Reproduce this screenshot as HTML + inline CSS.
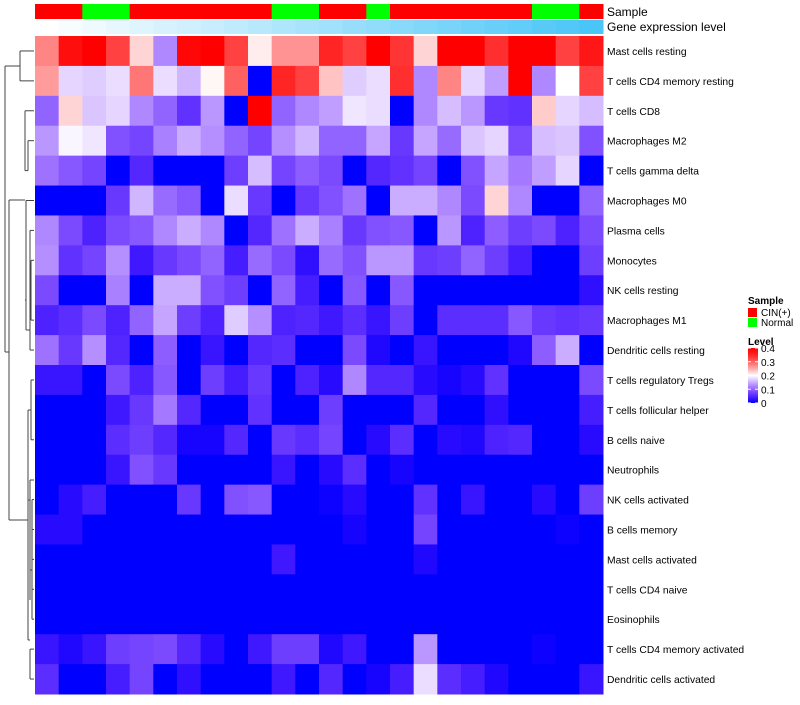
<!DOCTYPE html>
<html><head><meta charset="utf-8"><style>
body{margin:0;background:#fff;font-family:"Liberation Sans",sans-serif;}
svg text{font-family:"Liberation Sans",sans-serif;}
</style></head><body>
<svg id="chart" width="800" height="700" xmlns="http://www.w3.org/2000/svg"></svg>
<script>
const cellTypes=["Mast cells resting","T cells CD4 memory resting","T cells CD8","Macrophages M2","T cells gamma delta","Macrophages M0","Plasma cells","Monocytes","NK cells resting","Macrophages M1","Dendritic cells resting","T cells regulatory  Tregs","T cells follicular helper","B cells naive","Neutrophils","NK cells activated","B cells memory","Mast cells activated","T cells CD4 naive","Eosinophils","T cells CD4 memory activated","Dendritic cells activated"];
const sampleGroups=["CIN(+)","CIN(+)","Normal","Normal","CIN(+)","CIN(+)","CIN(+)","CIN(+)","CIN(+)","CIN(+)","Normal","Normal","CIN(+)","CIN(+)","Normal","CIN(+)","CIN(+)","CIN(+)","CIN(+)","CIN(+)","CIN(+)","Normal","Normal","CIN(+)"];
const legendTicks=[0,0.1,0.2,0.3,0.4];
const levels=[
[.275,.375,.4,.325,.225,.125,.385,.4,.325,.21,.265,.265,.35,.325,.4,.335,.225,.4,.4,.34,.4,.4,.325,.365],
[.26,.175,.17,.18,.285,.18,.155,.205,.3,0,.35,.325,.235,.17,.18,.34,.125,.275,.175,.14,.4,.125,.2,.325],
[.1,.225,.165,.175,.125,.1,.06,.135,0,.4,.1,.125,.14,.185,.18,0,.125,.16,.135,.065,.06,.23,.175,.16],
[.135,.195,.185,.085,.075,.12,.15,.13,.1,.075,.13,.155,.1,.1,.145,.065,.145,.105,.165,.175,.08,.16,.165,.085],
[.11,.09,.075,0,.05,0,0,0,.07,.16,.075,.095,.08,0,.05,.06,.075,0,.085,.145,.115,.14,.175,0],
[0,0,0,.065,.155,.105,.09,0,.18,.065,0,.065,.085,.11,0,.15,.15,.125,.08,.225,.125,0,0,.1],
[.125,.08,.045,.08,.09,.125,.15,.125,0,.05,.11,.15,.12,.065,.085,.09,0,.135,.045,.095,.07,.08,.045,.08],
[.13,.06,.075,.13,.035,.065,.08,.1,.04,.105,.08,.025,.105,.085,.135,.135,.065,.07,.1,.07,.04,0,0,.07],
[.08,0,0,.12,0,.15,.15,.085,.07,0,.1,.04,0,.09,0,.09,0,0,0,0,0,0,0,.025],
[.045,.055,.08,.045,.1,.145,.07,.045,.17,.13,.045,.05,.035,.055,.03,.07,0,.055,.055,.055,.09,.065,.06,.065],
[.11,.065,.13,.05,0,.095,0,.03,0,.05,.055,0,0,.08,.015,0,.03,0,0,0,.015,.095,.15,0],
[.03,.03,0,.08,.045,.09,0,.07,.04,.065,0,.045,.02,.125,.05,.05,.02,.01,.02,.06,0,0,0,.08],
[0,0,0,.035,.065,.115,.05,0,0,.06,0,0,.07,0,0,0,.05,0,0,.025,0,0,0,.04],
[0,0,0,.055,.07,.05,.01,.01,.05,0,.065,.055,.075,0,.02,.055,0,.02,.015,.045,.05,0,0,.02],
[0,0,0,.03,.085,.065,0,0,0,0,.03,0,.02,.055,0,.01,0,0,0,0,0,0,0,0],
[0,.02,.04,0,0,0,.065,0,.085,.09,0,0,.005,.02,0,0,.06,0,.03,0,0,.02,0,.07],
[.02,.02,0,0,0,0,0,0,0,0,0,0,0,.01,0,0,.075,0,0,0,0,0,.005,0],
[0,0,0,0,0,0,0,0,0,0,.035,0,0,0,0,0,.015,0,0,0,0,0,0,0],
[0,0,0,0,0,0,0,0,0,0,0,0,0,0,0,0,0,0,0,0,0,0,0,0],
[0,0,0,0,0,0,0,0,0,0,0,0,0,0,0,0,0,0,0,0,0,0,0,0],
[.03,.015,.03,.07,.075,.08,.05,.02,0,.035,.07,.07,.015,.035,0,0,.135,0,0,0,0,.005,0,0],
[.055,0,0,.04,.075,0,.025,0,0,0,.035,0,.05,0,.01,.04,.18,.055,.04,.015,0,0,0,.03]
];
const NS="http://www.w3.org/2000/svg";
const svg=document.getElementById('chart');
function mk(tag,attrs,parent){const e=document.createElementNS(NS,tag);for(const k in attrs)e.setAttribute(k,attrs[k]);(parent||svg).appendChild(e);return e;}
const X0=35,X1=603,Y0=36,Y1=694;
const nC=sampleGroups.length,nR=cellTypes.length;
const cw=(X1-X0)/nC,rh=(Y1-Y0)/nR;
const xPos=i=>X0+i*cw, yPos=j=>Y0+j*rh;
function color(v){
  v=Math.max(0,Math.min(0.4,v));
  let r,g,b;
  if(v<=0.2){const t=v/0.2;r=255*Math.pow(t,0.8);g=255*Math.pow(t,1.35);b=255;}
  else{const s=(v-0.2)/0.2;r=255;g=b=255*Math.pow(1-s,1.4);}
  return `rgb(${Math.round(r)},${Math.round(g)},${Math.round(b)})`;
}
const gS=mk('g',{});


sampleGroups.forEach((s,i)=>{const r=mk('rect',{x:xPos(i),y:4,width:cw+0.5,height:15,fill:s==="Normal"?"#00ff00":"#ff0000"},gS);

});
const gG=mk('g',{});


for(let i=0;i<nC;i++){const t=i/(nC-1);
const r=mk('rect',{x:xPos(i),y:20,width:cw+0.5,height:14,fill:`rgb(${Math.round(255-t*(255-73))},${Math.round(255-t*(255-197))},${Math.round(255-t*(255-247))})`},gG);

}
const t1=mk('text',{x:607,y:16,'font-size':12,fill:'#000'});t1.textContent="Sample";


const t2=mk('text',{x:607,y:31,'font-size':12,fill:'#000'});t2.textContent="Gene expression level";


const gH=mk('g',{});


levels.forEach((row,j)=>{row.forEach((v,i)=>{
const r=mk('rect',{x:xPos(i),y:yPos(j),width:cw+0.5,height:rh+0.5,fill:color(v)},gH);

});
const lb=mk('text',{x:607,y:yPos(j)+rh/2+4,'font-size':10.3,fill:'#000'});lb.textContent=cellTypes[j];

});
// dendrogram (approximate), root on the left, leaves at heatmap edge
const gD=mk('g',{stroke:'#444','stroke-width':1,fill:'none'});


const yc=j=>yPos(j)+rh/2;
const L=34;
const segs=[
[20,yc(0),20,yc(1)],[20,yc(0),L,yc(0)],[20,yc(1),L,yc(1)],
[5,66,5,352],[5,66,20,66],[5,352,9,352],
[9,200,9,520],[9,200,25,200],
[25,yc(2),25,yc(4)],[25,yc(2),L,yc(2)],[25,yc(4),28,yc(4)],[28,yc(3),28,yc(4)],[28,yc(3),L,yc(3)],
[25,300,26,300],[26,yc(5),26,330],[26,yc(5),L,yc(5)],[26,330,30,330],[30,yc(6),30,yc(10)],[30,yc(6),L,yc(6)],[30,yc(10),L,yc(10)],
[31,yc(7),31,yc(9)],[31,yc(7),L,yc(7)],[31,yc(9),L,yc(9)],[30,yc(8),31,yc(8)],
[9,520,28,520],[28,410,28,640],[28,410,31,410],[31,yc(11),31,yc(13)],[31,yc(11),L,yc(11)],[31,yc(13),L,yc(13)],
[28,640,30,640],[30,yc(20),30,yc(21)],[30,yc(20),L,yc(20)],[30,yc(21),L,yc(21)],
[28,500,30,500],[30,480,30,600],[30,480,L,480],[32,yc(15),32,yc(19)],[32,yc(15),L,yc(15)],[32,yc(16),L,yc(16)],[32,yc(17),L,yc(17)],[32,yc(18),L,yc(18)],[32,yc(19),L,yc(19)],[30,570,32,570]
];
segs.forEach(s=>mk('line',{x1:s[0],y1:s[1],x2:s[2],y2:s[3]},gD));
const gL=mk('g',{});


const lt=mk('text',{x:748,y:304,'font-size':10,'font-weight':'bold'},gL);lt.textContent="Sample";
[["CIN(+)","#ff0000",308],["Normal","#00ff00",318]].forEach(d=>{
const r=mk('rect',{x:748,y:d[2],width:9,height:9,fill:d[1]},gL);


const t=mk('text',{x:761,y:d[2]+8,'font-size':10},gL);t.textContent=d[0];

});
const lv=mk('text',{x:748,y:345,'font-size':10,'font-weight':'bold'},gL);lv.textContent="Level";
const defs=mk('defs',{});const gr=mk('linearGradient',{id:'lg',x1:0,y1:1,x2:0,y2:0},defs);
for(let k=0;k<=10;k++){mk('stop',{offset:k/10,'stop-color':color(0.04*k)},gr);}
const gb=mk('rect',{x:748,y:348,width:10,height:55,fill:'url(#lg)'},gL);


legendTicks.forEach(v=>{const y=403-v/0.4*55;
mk('line',{x1:748,x2:751,y1:y,y2:y,stroke:'#fff'},gL);mk('line',{x1:755,x2:758,y1:y,y2:y,stroke:'#fff'},gL);
const t=mk('text',{x:761,y:y+4,'font-size':10},gL);t.textContent=v===0?"0":String(v);

});
</script>
</body></html>
